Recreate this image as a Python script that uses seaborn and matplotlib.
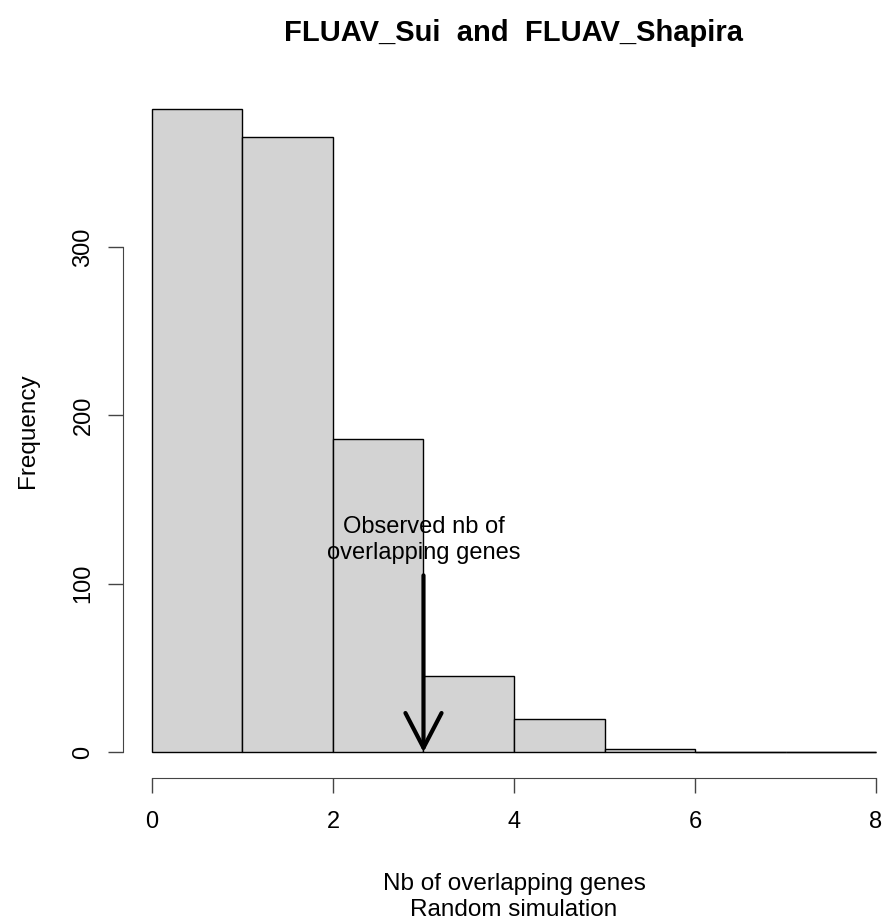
import numpy as np
import pandas as pd
import seaborn as sns
import matplotlib.pyplot as plt

sns.set_style("white")
plt.rcParams["font.family"] = ["Liberation Sans", "DejaVu Sans"]
plt.rcParams["text.color"] = "black"
plt.rcParams["axes.labelcolor"] = "black"

# ============================================
# DATA
# ============================================
bin_edges = [0, 1, 2, 3, 4, 5, 6, 7, 8]
counts = [382, 365, 186, 45, 20, 2, 0, 0]
observed = 3
arrow_top = 105
y_ticks = [0, 100, 200, 300]
x_ticks = [0, 2, 4, 6, 8]

df = pd.DataFrame({
    "mid": [(a + b) / 2 for a, b in zip(bin_edges[:-1], bin_edges[1:])],
    "count": counts,
})

# ============================================
# FIGURE
# ============================================
fig = plt.figure(figsize=(8.84, 9.23), dpi=100)
ax = fig.add_axes([123 / 884, 145 / 923, 782 / 884, 695 / 923])

sns.histplot(data=df, x="mid", weights="count", bins=bin_edges,
             color="#d3d3d3", edgecolor="black", linewidth=1.0,
             alpha=1, ax=ax)

# empty bins are drawn as flat lines, like R's hist()
for left, right, c in zip(bin_edges[:-1], bin_edges[1:], counts):
    if c == 0:
        ax.plot([left, right], [0, 0], color="black", lw=1.0,
                solid_capstyle="butt")

ax.set_xlim(-0.32, 8.32)
ax.set_ylim(-0.04 * max(counts), 1.04 * max(counts))

for s in ["top", "right"]:
    ax.spines[s].set_visible(False)
ax.spines["left"].set_bounds(0, 300)
ax.spines["bottom"].set_bounds(0, 8)
ax.spines["left"].set_color("#444444")
ax.spines["bottom"].set_color("#444444")

ax.set_xticks(x_ticks)
ax.set_yticks(y_ticks)
ax.set_yticklabels([str(t) for t in y_ticks], rotation=90, va="center")
ax.tick_params(axis="both", which="both", direction="out", length=10.5,
               width=1, color="#444444", labelcolor="black", labelsize=17,
               left=True, bottom=True)
ax.tick_params(axis="x", pad=13)
ax.tick_params(axis="y", pad=10)
ax.grid(False)

ax.set_xlabel("Nb of overlapping genes\nRandom simulation", fontsize=17.5,
              labelpad=29, linespacing=1.25)
ax.set_ylabel("Frequency", fontsize=17.5, labelpad=24)
ax.set_title("FLUAV_Sui  and  FLUAV_Shapira", fontsize=21,
             fontweight="bold", pad=30)

# arrow for the observed value
ax.annotate("", xy=(observed, 0), xytext=(observed, arrow_top),
            arrowprops=dict(arrowstyle="->,head_length=2.5,head_width=1.3",
                            lw=3, color="black", shrinkA=0, shrinkB=0))
ax.text(observed, 126, "Observed nb of\noverlapping genes", ha="center",
        va="center", fontsize=17, linespacing=1.2)

plt.savefig("out.png", dpi=100)
plt.close()
